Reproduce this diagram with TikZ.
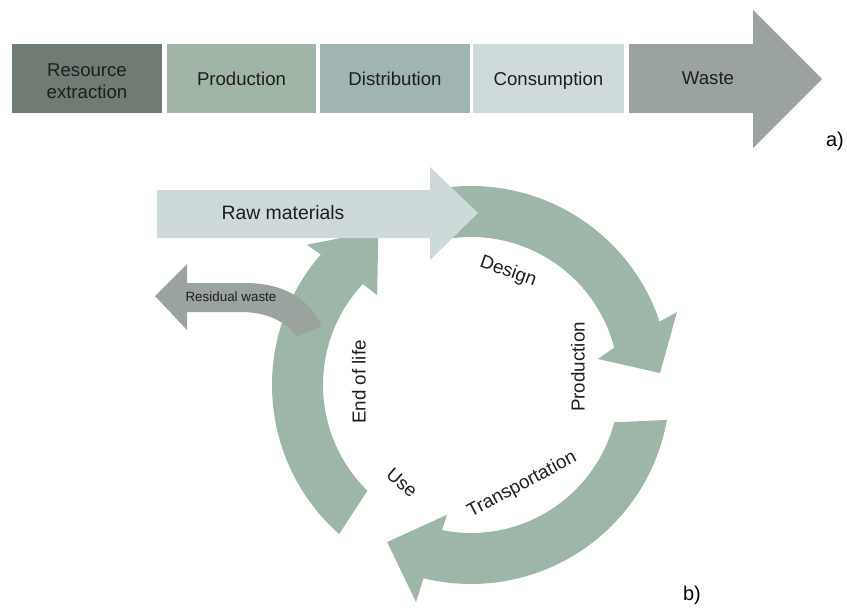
\documentclass[tikz,border=0pt]{standalone}
\usepackage{fontspec}
\setmainfont{Liberation Sans}
\definecolor{stageA}{HTML}{6F7B73}
\definecolor{stageB}{HTML}{A1B5A7}
\definecolor{stageC}{HTML}{A0B4B2}
\definecolor{stageD}{HTML}{CEDBDA}
\definecolor{wastegrey}{HTML}{9BA39E}
\definecolor{ringgreen}{HTML}{9EB6A8}
\definecolor{rawblue}{HTML}{CDDAD9}
\definecolor{ink}{HTML}{1E1E1E}
\newcommand\stagefont{\fontsize{18.6}{22}\selectfont}
\newcommand\cyclefont{\fontsize{18.8}{22}\selectfont}
\begin{document}
\begin{tikzpicture}[x=1pt,y=1pt,
  stagetext/.style={text=ink, font=\stagefont, inner sep=0pt,
    text height=13.5pt, text depth=4pt},
  twolinetext/.style={text=ink, font=\stagefont, inner sep=0pt, align=center},
  cyclelabel/.style={text=ink, font=\cyclefont, inner sep=0pt},
  ringarrow/.style={fill=ringgreen},
  partlabel/.style={text=black, font=\fontsize{20}{24}\selectfont, inner sep=0pt}]
\useasboundingbox (0,0) rectangle (847,-608);

% ---- a) linear chain ----
\fill[stageA] (12,-44) rectangle (162,-113);
\fill[stageB] (167,-44) rectangle (316,-113);
\fill[stageC] (320,-44) rectangle (470,-113);
\fill[stageD] (473,-44) rectangle (624,-113);
\node[twolinetext] (extract) at (87,-81) {Resource\\extraction};
\node[stagetext] (prod) at (241.5,-81) {Production};
\node[stagetext] (distr) at (395,-81) {Distribution};
\node[stagetext] (consum) at (548.5,-81) {Consumption};
\fill[wastegrey] (629,-44) -- (753,-44) -- (753,-10) -- (822,-79) -- (753,-148)
  -- (753,-113) -- (629,-113) -- cycle;
\node[stagetext] (waste) at (708,-80) {Waste};
\node[partlabel] (parta) at (835,-141) {a)};

% ---- b) circular economy ----
\begin{scope}[shift={(471,-385)}]
  % Design / Production arc
  \fill[ringarrow] (100:199) arc[start angle=100, end angle=18.6, radius=199]
    -- (19.5:218.5) -- (3.6:189.4) -- (11.6:129.6) -- (14.6:148)
    arc[start angle=14.6, end angle=100, radius=148] -- cycle;
  % Transportation arc
  \fill[ringarrow] (-10.1:199) arc[start angle=-10.1, end angle=-103.8, radius=199]
    -- (-104.2:224) -- (-118.1:178) -- (-100.5:132) -- (-101.3:148)
    arc[start angle=-101.3, end angle=-14.6, radius=148] -- cycle;
  % Use / End of life arc
  \fill[ringarrow] (228.5:199) arc[start angle=228.5, end angle=139, radius=199]
    -- (139.5:216) -- (121:180) -- (136.2:130) -- (137:148)
    arc[start angle=137, end angle=225.6, radius=148] -- cycle;
\end{scope}

% raw materials input
\fill[rawblue] (157,-190) -- (430,-190) -- (430,-167) -- (478,-213) -- (430,-260)
  -- (430,-238) -- (157,-238) -- cycle;
\node[text=ink, font=\fontsize{19.4}{23}\selectfont] (raw) at (283,-213) {Raw materials};

% residual waste output
\fill[wastegrey] (155,-296) -- (187,-264) -- (187,-283) -- (245,-283)
  .. controls (285,-283) and (310,-300) .. (322,-326) -- (297,-337)
  .. controls (285,-320) and (265,-312) .. (240,-312) -- (187,-312)
  -- (187,-330) -- cycle;
\node[text=ink, font=\fontsize{13.4}{16}\selectfont] (resid) at (231,-297) {Residual waste};

% stage labels around the loop
\node[cyclelabel, rotate=-20] (design) at (508,-272) {Design};
\node[cyclelabel, rotate=90] (cprod) at (578,-367) {Production};
\node[cyclelabel, rotate=28] (transp) at (522,-485) {Transportation};
\node[cyclelabel, rotate=-41] (use) at (402,-483) {Use};
\node[cyclelabel, rotate=90] (eol) at (359,-382) {End of life};
\node[partlabel] (partb) at (692,-595) {b)};
\end{tikzpicture}
\end{document}
